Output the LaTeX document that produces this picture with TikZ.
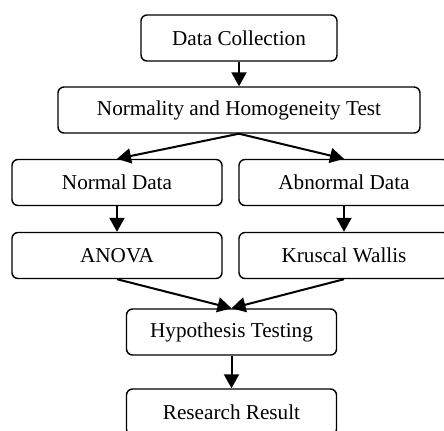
\documentclass[tikz,border=0pt]{standalone}
\usepackage{fontspec}
\setmainfont{Liberation Serif}
\usetikzlibrary{arrows.meta}

\begin{document}
\begin{tikzpicture}[x=0.5pt, y=-0.5pt,
  box/.style={draw, line width=0.7pt, rounded corners=3pt, minimum height=23pt, inner sep=0pt, font=\fontsize{10.6}{12}\selectfont},
  flow/.style={line width=1pt, -{Triangle[length=7pt, width=7.5pt]}}]
\useasboundingbox (0,0) rectangle (444,430);

% Boxes
\node[box, minimum width=98pt] (collect) at (239,38) {Data Collection};
\node[box, minimum width=181pt] (normtest) at (239,110) {Normality and Homogeneity Test};
\node[box, minimum width=105pt] (normal) at (117,182.5) {Normal Data};
\node[box, minimum width=105pt] (abnormal) at (344,182.5) {Abnormal Data};
\node[box, minimum width=105pt] (anova) at (117,255.5) {ANOVA};
\node[box, minimum width=105pt] (kruscal) at (344,255.5) {Kruscal Wallis};
\node[box, minimum width=105pt] (hypo) at (231.5,332) {Hypothesis Testing};
\node[box, minimum width=105pt] (result) at (231.5,412) {Research Result};

% Arrows
\draw[flow] (collect) -- (normtest);
\draw[flow] (normtest.south) -- (normal.north);
\draw[flow] (normtest.south) -- (abnormal.north);
\draw[flow] (normal) -- (anova);
\draw[flow] (abnormal) -- (kruscal);
\draw[flow] (anova.south) -- (hypo.north);
\draw[flow] (kruscal.south) -- (hypo.north);
\draw[flow] (hypo) -- (result);
\end{tikzpicture}
\end{document}
